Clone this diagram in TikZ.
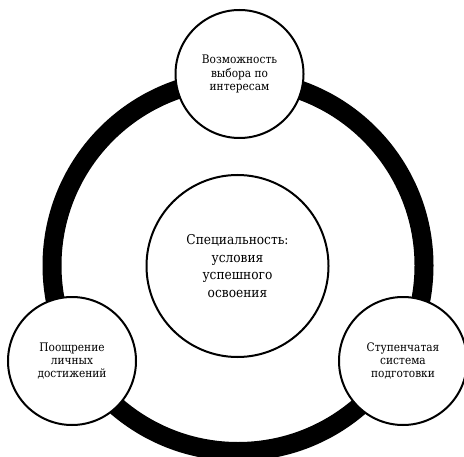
\documentclass[tikz,border=0pt]{standalone}
\usepackage{fontspec}
\setmainfont{DejaVu Serif Condensed}
\begin{document}
\begin{tikzpicture}[x=1bp,y=-1bp]
\tikzset{
  bubble/.style={circle, draw=black, line width=2bp, fill=white, inner sep=0pt, align=center},
  bigtext/.style={font=\fontsize{13.6}{17.5}\selectfont},
  smalltext/.style={font=\fontsize{11.8}{13.3}\selectfont},
  ring/.style={draw=black, line width=19bp}
}
\useasboundingbox (0,0) rectangle (464,457);
\draw[ring] (238,265.5) circle[radius=186];
\node[bubble, bigtext, minimum size=182bp] (center) at (237.5,266) {Специальность:\\условия\\успешного\\освоения};
\node[bubble, smalltext, minimum size=128bp] (top) at (239.5,74) {Возможность\\выбора по\\интересам};
\node[bubble, smalltext, minimum size=128bp] (left) at (72,361) {Поощрение\\личных\\достижений};
\node[bubble, smalltext, minimum size=128bp] (right) at (403,361) {Ступенчатая\\система\\подготовки};
\end{tikzpicture}
\end{document}
